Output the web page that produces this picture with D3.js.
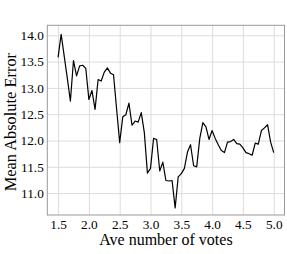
<!DOCTYPE html>
<html><head><meta charset="utf-8">
<script src="https://cdn.jsdelivr.net/npm/d3@7"></script>
<style>html,body{margin:0;padding:0;background:#fff;}svg{display:block;}</style>
</head><body>
<svg id="c" width="287" height="254"></svg>
<script>
const votes = [1.5,1.55,1.6,1.65,1.7,1.75,1.8,1.85,1.9,1.95,2.0,2.05,2.1,2.15,2.2,2.25,2.3,2.35,2.4,2.45,
  2.5,2.55,2.6,2.65,2.7,2.75,2.8,2.85,2.9,2.95,3.0,3.05,3.1,3.15,3.2,3.25,3.3,3.35,3.4,3.45,
  3.5,3.55,3.6,3.65,3.7,3.75,3.8,3.85,3.9,3.95,4.0,4.05,4.1,4.15,4.2,4.25,4.3,4.35,4.4,4.45,
  4.5,4.55,4.6,4.65,4.7,4.75,4.8,4.85,4.9,4.95,5.0];
const mae = [13.58,14.02,13.6,13.18,12.75,13.52,13.23,13.42,13.43,13.37,12.78,12.95,12.59,13.16,13.13,13.30,13.38,13.28,13.25,12.6,
  11.96,12.45,12.49,12.71,12.29,12.37,12.35,12.53,12.15,11.38,11.47,12.04,12.02,11.42,11.59,11.24,11.23,11.24,10.72,11.31,
  11.37,11.47,11.78,11.92,11.52,11.50,12.04,12.34,12.26,12.02,12.19,12.04,11.92,11.81,11.77,11.97,11.98,12.02,11.94,11.93,
  11.86,11.77,11.75,11.72,11.95,11.93,12.19,12.24,12.30,11.97,11.77];
const xTicks = [1.5,2.0,2.5,3.0,3.5,4.0,4.5,5.0];
const yTicks = [11.0,11.5,12.0,12.5,13.0,13.5,14.0];
const xLabel = "Ave number of votes";
const yLabel = "Mean Absolute Error";

const L=47.3, R=284.5, T=25.3, B=215;
const svg = d3.select("#c");
const x = d3.scaleLinear().domain([1.325,5.175]).range([L,R]);
const y = d3.scaleLinear().domain([10.584,14.19]).range([B,T]);
const font = "'Liberation Serif','Times New Roman',serif";

// grid
svg.append("g").attr("transform",`translate(0,${B})`)
  .call(d3.axisBottom(x).tickValues(xTicks).tickSize(-(B-T)).tickFormat(""))
  .call(g=>{g.select(".domain").remove();g.selectAll("line").attr("stroke","#dcdcdc").attr("stroke-width",1);});
svg.append("g").attr("transform",`translate(${L},0)`)
  .call(d3.axisLeft(y).tickValues(yTicks).tickSize(-(R-L)).tickFormat(""))
  .call(g=>{g.select(".domain").remove();g.selectAll("line").attr("stroke","#dcdcdc").attr("stroke-width",1);});

// frame
svg.append("rect").attr("x",L).attr("y",T).attr("width",R-L).attr("height",B-T)
  .attr("fill","none").attr("stroke","#999").attr("stroke-width",1);

// tick labels
svg.append("g").attr("transform",`translate(0,${B})`)
  .call(d3.axisBottom(x).tickValues(xTicks).tickSize(0).tickPadding(13.5).tickFormat(d3.format(".1f")))
  .call(g=>{g.select(".domain").remove();g.selectAll("text").attr("font-family",font).attr("font-size","13.3px").attr("fill","#000").attr("dy","0");});
svg.append("g").attr("transform",`translate(${L},0)`)
  .call(d3.axisLeft(y).tickValues(yTicks).tickSize(0).tickPadding(3.5).tickFormat(d3.format(".1f")))
  .call(g=>{g.select(".domain").remove();g.selectAll("text").attr("font-family",font).attr("font-size","13.3px").attr("fill","#000").attr("dy","0.33em");});

// line
const line = d3.line().x((d,i)=>x(votes[i])).y(d=>y(d));
svg.append("path").datum(mae).attr("d",line).attr("fill","none")
  .attr("stroke","#000").attr("stroke-width",1.2).attr("stroke-linejoin","round");

// axis labels
svg.append("text").attr("x",(L+R)/2).attr("y",245).attr("text-anchor","middle")
  .attr("font-family",font).attr("font-size","16px").attr("fill","#000").text(xLabel);
svg.append("text").attr("transform",`translate(15.5,${(T+B)/2+2}) rotate(-90)`).attr("text-anchor","middle")
  .attr("font-family",font).attr("font-size","16.4px").attr("fill","#000").text(yLabel);
</script>
</body></html>
